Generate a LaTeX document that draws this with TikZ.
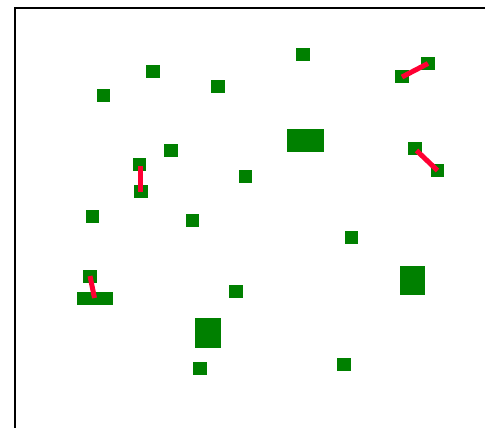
\documentclass[tikz,border=0pt]{standalone}
\usepackage{tikz}

\definecolor{blokzelena}{RGB}{0,128,0}
\definecolor{spojcervena}{RGB}{255,0,51}

\tikzset{
    blok/.style={rectangle, fill=blokzelena, inner sep=0pt,
        minimum width=13.5pt, minimum height=13pt},
    spoj/.style={draw=spojcervena, line width=5pt}
}

\begin{document}
\begin{tikzpicture}[x=1pt,y=-1pt]

    \useasboundingbox (0,0) rectangle (485,428);

    % rám
    \draw[line width=2pt] (15,428) -- (15,8) -- (485,8);

    % malé bloky
    \node[blok] (b1) at (103.5,95.5) {};
    \node[blok] (b2) at (153,72) {};
    \node[blok] (b3) at (218,86.5) {};
    \node[blok] (b4) at (303,54.5) {};
    \node[blok] (b5) at (402,77) {};
    \node[blok] (b6) at (428,63.5) {};
    \node[blok] (b8) at (171,150) {};
    \node[blok] (b9) at (139.5,164) {};
    \node[blok] (b10) at (141,191.5) {};
    \node[blok] (b11) at (245.5,176) {};
    \node[blok] (b12) at (415,148.5) {};
    \node[blok] (b13) at (437.5,170.5) {};
    \node[blok] (b14) at (92.5,216) {};
    \node[blok] (b15) at (192.5,220.5) {};
    \node[blok] (b16) at (351.5,237) {};
    \node[blok] (b17) at (90,276) {};
    \node[blok] (b19) at (236,291.5) {};
    \node[blok] (b22) at (200,368.5) {};
    \node[blok] (b23) at (344,364.5) {};

    % velké bloky
    \node[blok, minimum width=37pt, minimum height=23pt] (b7) at (305.5,140.5) {};
    \node[blok, minimum width=36pt, minimum height=13pt] (b18) at (95,298) {};
    \node[blok, minimum width=25pt, minimum height=28.5pt] (b20) at (412.5,280.5) {};
    \node[blok, minimum width=26pt, minimum height=30pt] (b21) at (208,333) {};

    % spoje
    \draw[spoj] (b5.center) -- (b6.center);
    \draw[spoj] (b9.center) ++(1.2,2) -- ([xshift=-0.3pt]b10.center);
    \draw[spoj] (b12.center) ++(1.5,2) -- (b13.center);
    \draw[spoj] (b17.center) -- ([xshift=-0.5pt]b18.center);

\end{tikzpicture}
\end{document}
